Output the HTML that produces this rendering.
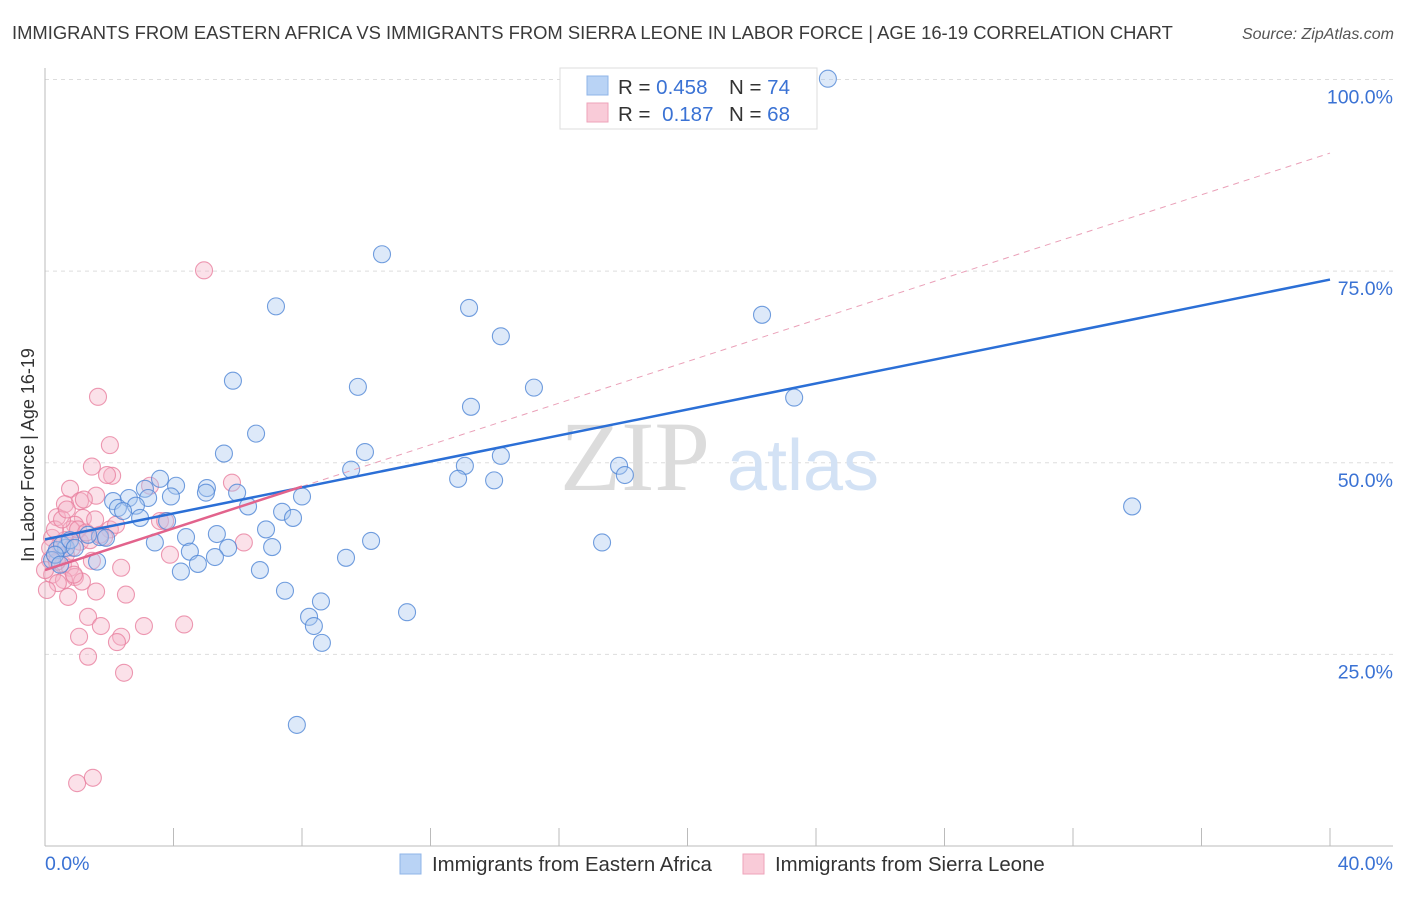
<!DOCTYPE html>
<html><head><meta charset="utf-8"><style>
body{margin:0;background:#fff;font-family:"Liberation Sans",sans-serif;}
</style></head><body>
<svg id="chart" width="1406" height="892" xmlns="http://www.w3.org/2000/svg" font-family="Liberation Sans, sans-serif">
<text x="12" y="39" font-size="18.4" fill="#3a3a3a">IMMIGRANTS FROM EASTERN AFRICA VS IMMIGRANTS FROM SIERRA LEONE IN LABOR FORCE | AGE 16-19 CORRELATION CHART</text>
<text x="1394" y="39" font-size="16" fill="#555" font-style="italic" text-anchor="end">Source: ZipAtlas.com</text>
<g id="grid"></g>
<g id="wm">
<text x="635" y="490" font-size="100" fill="#dcdcdc" style="font-family:'Liberation Serif',serif" text-anchor="middle">ZIP</text>
<text x="803" y="490" font-size="72" fill="#d3e2f5" text-anchor="middle">atlas</text>
</g>
<g id="axes"></g>
<g id="lines"></g>
<g id="pts"></g>
<text transform="translate(34,455) rotate(-90)" font-size="18" fill="#333" text-anchor="middle">In Labor Force | Age 16-19</text>
<g>
<rect x="560" y="68" width="257" height="61" fill="#fff" stroke="#ddd"/>
<rect x="587" y="76" width="21" height="19" fill="#b9d3f5" stroke="#8fb5e8"/>
<rect x="587" y="103" width="21" height="19" fill="#f9cbd8" stroke="#eea3ba"/>
<text x="618" y="94" font-size="20.5" fill="#333">R = <tspan fill="#3a72d4">0.458</tspan></text>
<text x="729" y="94" font-size="20.5" fill="#333">N = <tspan fill="#3a72d4">74</tspan></text>
<text x="618" y="121" font-size="20.5" fill="#333">R = <tspan fill="#3a72d4" dx="6">0.187</tspan></text>
<text x="729" y="121" font-size="20.5" fill="#333">N = <tspan fill="#3a72d4">68</tspan></text>
</g>
<g>
<rect x="400" y="854" width="21" height="20" fill="#b9d3f5" stroke="#8fb5e8"/>
<text x="432" y="871" font-size="20.4" fill="#333">Immigrants from Eastern Africa</text>
<rect x="743" y="854" width="21" height="20" fill="#f9cbd8" stroke="#eea3ba"/>
<text x="775" y="871" font-size="20.4" fill="#333">Immigrants from Sierra Leone</text>
</g>
</svg>
<script>
const xTicks=[0,5,10,15,20,25,30,35,40];
const yTicks=[25,50,75,100];
const yTickLabels=["25.0%","50.0%","75.0%","100.0%"];
const xEndLabels=["0.0%","40.0%"];
const blueX=[24.37,10.49,7.19,13.2,14.19,22.32,5.85,9.74,15.22,13.26,23.32,6.57,5.57,9.96,17.87,13.07,14.19,9.53,18.05,12.86,13.98,3.58,4.08,5.04,3.11,3.21,5.98,5.01,8.0,2.12,2.61,3.92,2.83,2.27,2.43,6.32,7.38,7.72,2.96,3.8,33.84,6.88,5.35,4.39,3.42,1.71,1.34,1.9,10.15,17.34,7.07,5.7,4.51,0.65,0.37,0.22,5.29,4.76,9.37,4.23,1.62,6.69,7.47,8.59,11.27,8.22,8.37,8.62,7.84,0.53,0.78,0.31,0.47,0.93];
const blueY=[100.1,77.2,70.4,70.2,66.5,69.3,60.7,59.9,59.8,57.3,58.5,53.8,51.2,51.4,49.6,49.6,50.9,49.1,48.4,47.9,47.7,47.9,47.0,46.7,46.6,45.4,46.1,46.1,45.6,45.0,45.4,45.6,44.4,44.1,43.7,44.3,43.6,42.8,42.8,42.4,44.3,41.3,40.7,40.3,39.6,40.3,40.6,40.2,39.8,39.6,39.0,38.9,38.4,38.9,38.6,37.3,37.7,36.8,37.6,35.8,37.1,36.0,33.3,31.9,30.5,29.9,28.7,26.5,15.8,39.3,39.9,38.0,36.7,38.9];
const pinkX=[4.95,1.65,2.02,1.46,2.09,1.93,3.27,0.78,1.59,1.09,1.21,0.62,5.82,0.37,1.18,0.93,0.81,2.02,3.58,1.84,0.62,0.22,0.47,1.09,0.84,0.31,0.16,0.56,0.78,1.46,0.22,0.93,0.59,0.4,0.06,0.72,1.15,2.37,1.59,2.52,3.89,6.19,3.74,1.34,1.74,3.08,4.33,1.06,2.37,2.24,1.34,2.46,1.0,1.49,0.31,0.53,0.0,0.16,1.03,1.4,0.65,1.28,1.71,0.37,0.9,0.68,1.56,2.21];
const pinkY=[75.1,58.6,52.3,49.5,48.3,48.4,47.0,46.6,45.7,45.0,45.2,44.6,47.4,42.9,42.8,41.9,41.3,41.3,42.4,40.3,39.9,40.2,39.3,39.7,38.9,38.0,37.3,36.7,36.3,37.2,35.4,35.1,34.7,34.3,33.4,32.5,34.5,36.3,33.2,32.8,38.0,39.6,42.4,29.9,28.7,28.7,28.9,27.3,27.3,26.6,24.7,22.6,8.2,8.9,41.3,42.6,36.0,38.9,41.3,39.9,38.0,40.9,40.6,37.1,35.4,43.9,42.6,41.9];
const blueTrendX=[0,40], blueTrendY=[40.0,73.9];
const pinkTrendX=[0,8], pinkTrendY=[36.0,46.9];
const pinkDashX=[8,40], pinkDashY=[46.9,90.4];

const X0=45,X1=1330,Y0=846,Y100=79.5;
const sx=v=>X0+(X1-X0)*v/40;
const sy=v=>Y0-(Y0-Y100)*v/100;
const NS="http://www.w3.org/2000/svg";
function mk(tag,attrs,parent){const e=document.createElementNS(NS,tag);for(const k in attrs)e.setAttribute(k,attrs[k]);parent.appendChild(e);return e;}
const grid=document.getElementById('grid'),axes=document.getElementById('axes'),lines=document.getElementById('lines'),pts=document.getElementById('pts');
yTicks.forEach((t,i)=>{
  const l=mk('line',{x1:X0,x2:1393,y1:sy(t),y2:sy(t),stroke:'#ddd','stroke-dasharray':'4,4'},grid);
  
  
  const tx=mk('text',{x:1393,y:sy(t)+24,'font-size':19.5,fill:'#3a72d4','text-anchor':'end'},axes);
  tx.textContent=yTickLabels[i];
  
  
});
mk('line',{x1:X0,x2:X0,y1:68,y2:Y0,stroke:'#bbb'},axes);
mk('line',{x1:X0,x2:1393,y1:Y0,y2:Y0,stroke:'#bbb'},axes);
for(let v=0;v<=40;v+=4){
  const t=mk('line',{x1:sx(v),x2:sx(v),y1:828,y2:Y0,stroke:'#bbb'},axes);
  
  
}
const l0=mk('text',{x:X0,y:870,'font-size':19.5,fill:'#3a72d4'},axes);l0.textContent=xEndLabels[0];


const l1=mk('text',{x:1393,y:870,'font-size':19.5,fill:'#3a72d4','text-anchor':'end'},axes);l1.textContent=xEndLabels[1];



function dot(x,y,fill,stroke,name){
  const c=mk('circle',{cx:sx(x),cy:sy(y),r:8.5,fill:fill,'fill-opacity':0.4,stroke:stroke,'stroke-opacity':0.8,'stroke-width':1.1},pts);
  
  
}
pinkX.forEach((x,i)=>dot(x,pinkY[i],'#f5b3c7','#e8809f','point-sierra-leone'));
blueX.forEach((x,i)=>dot(x,blueY[i],'#a9c8f0','#4f86d6','point-eastern-africa'));

const pd=mk('line',{x1:sx(pinkDashX[0]),y1:sy(pinkDashY[0]),x2:sx(pinkDashX[1]),y2:sy(pinkDashY[1]),stroke:'#eaa0b8','stroke-width':1,'stroke-dasharray':'6,5'},lines);


const bt=mk('line',{x1:sx(blueTrendX[0]),y1:sy(blueTrendY[0]),x2:sx(blueTrendX[1]),y2:sy(blueTrendY[1]),stroke:'#2b6fd6','stroke-width':2.5},lines);


const pt=mk('line',{x1:sx(pinkTrendX[0]),y1:sy(pinkTrendY[0]),x2:sx(pinkTrendX[1]),y2:sy(pinkTrendY[1]),stroke:'#e2638c','stroke-width':2.5},lines);


document.getElementById('chart').appendChild(lines);
</script>
</body></html>
